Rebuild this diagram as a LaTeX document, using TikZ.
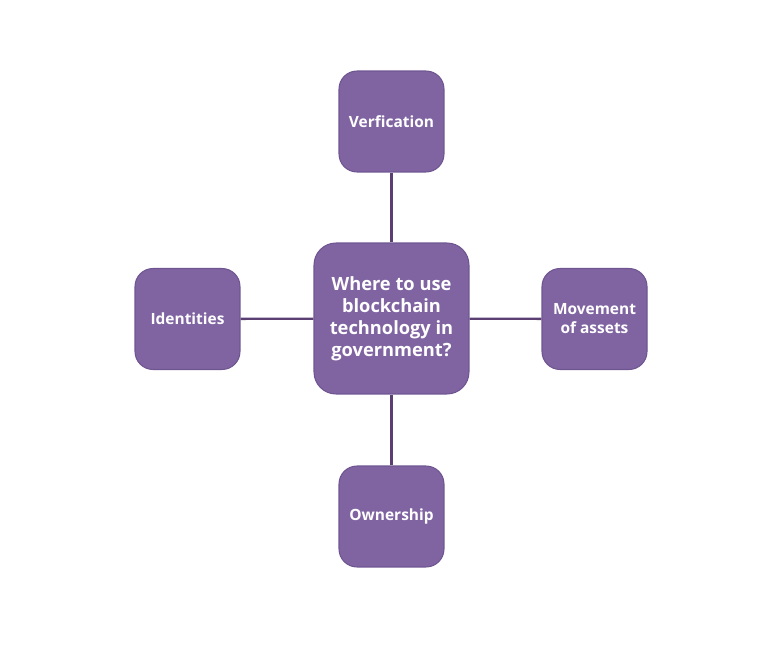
\documentclass[tikz,border=0pt]{standalone}
\usepackage{fontspec}
\setmainfont{Open Sans}
\definecolor{boxfill}{HTML}{8064A2}
\definecolor{boxedge}{HTML}{6E5590}
\definecolor{linkcol}{HTML}{5B3F73}
\tikzset{
  topic/.style={draw=boxedge, fill=boxfill, text=white, font=\bfseries\fontsize{8.8}{10.8}\selectfont,
    align=center, rounded corners=0.36cm, minimum width=2.1cm, minimum height=2.02cm, line width=0.6pt},
  hub/.style={topic, font=\bfseries\fontsize{10.4}{12.6}\selectfont, rounded corners=0.44cm,
    minimum width=3.1cm, minimum height=3.02cm},
  link/.style={draw=linkcol, line width=1.3pt}
}
\begin{document}
\begin{tikzpicture}[x=0.02cm, y=-0.02cm]
  \useasboundingbox (0, 0) rectangle (770, 648);
  \node[hub] (gov) at (391.5, 318.5) {Where to use\\blockchain\\technology in\\government?};
  \node[topic] (verif) at (391.5, 121.5) {Verfication};
  \node[topic] (owner) at (391.5, 516.5) {Ownership};
  \node[topic] (ident) at (187.5, 319) {Identities};
  \node[topic] (assets) at (594.5, 319) {Movement\\of assets};

  \draw[link] (gov) to (verif);
  \draw[link] (gov) to (owner);
  \draw[link] (gov) to (ident);
  \draw[link] (gov) to (assets);
\end{tikzpicture}
\end{document}
